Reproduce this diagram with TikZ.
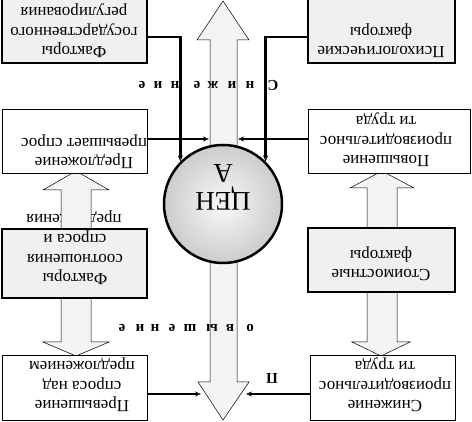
\documentclass[tikz,border=0pt]{standalone}
\usepackage{fontspec}
\setmainfont{Liberation Serif}
\usetikzlibrary{arrows.meta}

\begin{document}
\begin{tikzpicture}[x=1pt, y=-1pt,
    factor/.style={draw, line width=2.5pt, fill=gray!12, inner sep=0pt},
    effect/.style={draw, line width=0.9pt, fill=white, inner sep=0pt},
    boxtext/.style={rotate=180, align=center, font=\fontsize{17}{19.5}\selectfont},
    letter/.style={rotate=180, inner sep=0pt, font=\bfseries\fontsize{15}{15}\selectfont},
    link/.style={line width=2.5pt, -{Stealth[open, length=6pt, width=5pt, line width=0.7pt]}},
    pipe/.style={draw=black, line width=0.5pt, left color=gray!10, middle color=gray!35, right color=gray!8}]
  \clip (0,0) rectangle (472,422);
  \fill[white] (0,0) rectangle (472,422);

  % text that the left shaft hides in part
  \node[boxtext] (sootn-over) at (74,217) {предложения};

  % block arrows
  \path[pipe] (210,160) -- (210,40) -- (197,40) -- (223,1) -- (249,40) -- (237,40) -- (237,160) -- cycle;
  \path[pipe] (210,250) -- (210,382) -- (198,382) -- (223,420) -- (249,382) -- (237,382) -- (237,250) -- cycle;
  \path[pipe] (61,235) -- (61,190) -- (43,190) -- (76,171) -- (109,190) -- (91,190) -- (91,235) -- cycle;
  \path[pipe] (61,292) -- (61,342) -- (43,342) -- (76,356) -- (109,342) -- (91,342) -- (91,292) -- cycle;
  \path[pipe] (367,235) -- (367,188) -- (350,188) -- (382,171) -- (414,188) -- (397,188) -- (397,235) -- cycle;
  \path[pipe] (367,288) -- (367,342) -- (352,342) -- (381,356) -- (410,342) -- (397,342) -- (397,288) -- cycle;

  % boxes
  \node[factor, minimum width=145pt, minimum height=67pt] (gos) at (74.5,29.5) {};
  \node[factor, minimum width=147pt, minimum height=67pt] (psy) at (381.5,29.5) {};
  \node[effect, minimum width=145pt, minimum height=64pt] (predl) at (74.5,141) {};
  \node[effect, minimum width=162pt, minimum height=64pt] (povysh) at (389,141) {};
  \node[factor, minimum width=145pt, minimum height=69pt] (sootn) at (74.5,263.5) {};
  \node[factor, minimum width=147pt, minimum height=64pt] (stoim) at (381.5,260) {};
  \node[effect, minimum width=145pt, minimum height=65pt] (prevysh) at (74.5,387.5) {};
  \node[effect, minimum width=145pt, minimum height=65pt] (snizh) at (382.5,387.5) {};

  \node[boxtext] (gos-txt) at (74,31) {Факторы\\государственного\\регулирования};
  \node[boxtext] (psy-txt) at (381,41) {Психологические\\факторы};
  \node[boxtext] (predl-txt) at (84,152) {Предложение\\превышает спрос};
  \node[boxtext] (povysh-txt) at (386,140) {Повышение\\производительнос\\ти труда};
  \node[boxtext] (sootn-txt) at (75,258) {Факторы\\соотношения\\спроса и};
  \node[boxtext] (stoim-txt) at (381,264) {Стоимостные\\факторы};
  \node[boxtext] (prevysh-txt) at (82,385) {Превышение\\спроса над\\предложением};
  \node[boxtext] (snizh-txt) at (385,385) {Снижение\\производительнос\\ти труда};

  % price ball
  \node[draw, circle, line width=2.5pt, minimum size=118pt, inner color=gray!5, outer color=gray!40] (cena) at (223,204) {};
  \node[rotate=180, align=center, font=\fontsize{27}{28}\selectfont] (cena-txt) at (223,187) {ЦЕН\\А};

  % spaced captions of the shafts
  \foreach \x/\c in {142/е,158/и,175/н,197/е,213/ж,232/и,250/н,273/С}
    \node[letter] (sn-\x) at (\x,85) {\c};
  \foreach \x/\c in {122/е,140/и,155/н,172/е,190/ш,212/ы,230/в,250/о}
    \node[letter] (pv-\x) at (\x,328) {\c};
  \node[letter] (pv-first) at (272,378) {П};

  % links
  \coordinate (upL) at (209,139);
  \coordinate (upR) at (238,139);
  \coordinate (dnL) at (201,394);
  \coordinate (dnR) at (246,394);
  \draw[link] ([yshift=-7.5pt]gos.east) -| (cena.135);
  \draw[link] ([yshift=-7.5pt]psy.west) -| (cena.45);
  \draw[link] ([yshift=2pt]predl.east) -- (upL);
  \draw[link] ([yshift=2pt]povysh.west) -- (upR);
  \draw[link] ([yshift=-6.5pt]prevysh.east) -- (dnL);
  \draw[link] ([yshift=-6.5pt]snizh.west) -- (dnR);
\end{tikzpicture}
\end{document}
